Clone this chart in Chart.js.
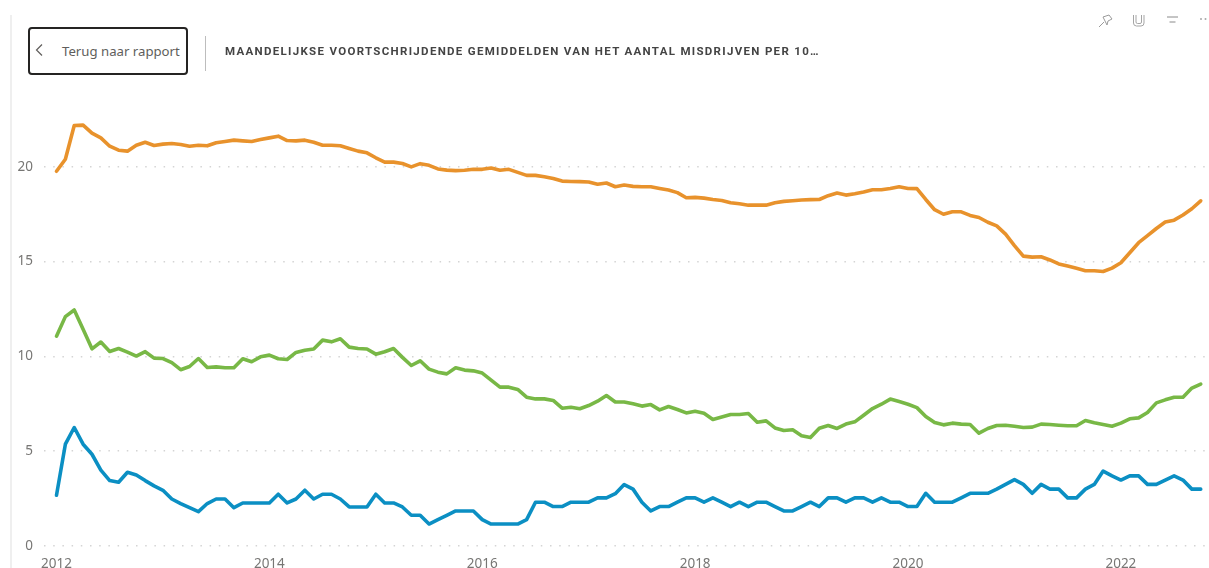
<!DOCTYPE html>
<html lang="nl">
<head>
<meta charset="utf-8">
<title>Maandelijkse voortschrijdende gemiddelden</title>
<script src="https://cdn.jsdelivr.net/npm/chart.js@4"></script>
<style>
html,body{margin:0;padding:0;background:#fff;overflow:hidden}
#wrap{position:relative;width:1209px;height:568px;font-family:"Noto Sans",sans-serif}
#c{position:absolute;left:0;top:0}
#leftline{position:absolute;left:10px;top:15px;width:2px;height:553px;background:#efefef}
#back{position:absolute;left:28px;top:27px;width:156px;height:44px;border:2px solid #252423;border-radius:4px;background:#fff}
#back svg{position:absolute;left:4px;top:14px}
#back span{position:absolute;left:32px;top:12px;font-size:13.2px;line-height:20px;color:#605e5c;white-space:nowrap}
#sep{position:absolute;left:205px;top:36px;width:1px;height:35px;background:#bdbdbd}
#title{position:absolute;left:225px;top:43px;font-family:"Roboto",sans-serif;font-weight:700;font-size:11.5px;line-height:16px;letter-spacing:1.31px;color:#444;white-space:nowrap}
.ic{position:absolute}
</style>
</head>
<body>
<div id="wrap">
<canvas id="c" width="1209" height="568"></canvas>
<div id="leftline"></div>
<div id="back">
<svg width="10" height="14" viewBox="0 0 10 14"><path d="M8 1.5 L2.5 7 L8 12.5" fill="none" stroke="#605e5c" stroke-width="1.2"/></svg>
<span>Terug naar rapport</span>
</div>
<div id="sep"></div>
<div id="title">MAANDELIJKSE VOORTSCHRIJDENDE GEMIDDELDEN VAN HET AANTAL MISDRIJVEN PER 10…</div>
<svg class="ic" style="left:1097px;top:13px" width="18" height="16" viewBox="0 0 18 16"><path d="M2 14 L7 9 M6 4 L12 2 L15 6 L11 8 L10 12 Z" fill="none" stroke="#9a9a9a" stroke-width="1"/></svg>
<svg class="ic" style="left:1131px;top:13px" width="16" height="15" viewBox="0 0 16 15"><path d="M2.5 2 V10 Q2.5 13 5.5 13 H10 Q13 13 13 10 V2 M5 2 V9 Q5 10.5 6.5 10.5 H9 Q10.5 10.5 10.5 9 V2" fill="none" stroke="#a5a5a5" stroke-width="1"/></svg>
<svg class="ic" style="left:1166px;top:15px" width="13" height="10" viewBox="0 0 13 10"><path d="M1 2 H12 M3.5 7 H9.5" fill="none" stroke="#8a8a8a" stroke-width="1"/></svg>
<svg class="ic" style="left:1198px;top:15px" width="11" height="8" viewBox="0 0 11 8"><circle cx="3" cy="4" r="1" fill="#a8a8a8"/><circle cx="7.5" cy="4" r="1" fill="#a8a8a8"/></svg>
</div>
<script>
const startYear = 2012;
const yearTicks = [2012, 2014, 2016, 2018, 2020, 2022];
const valueTicks = [0, 5, 10, 15, 20];

const orangeValues = [
19.77,20.4,22.18,22.2,21.78,21.53,21.09,20.88,20.83,21.14,
21.3,21.13,21.2,21.23,21.18,21.09,21.14,21.11,21.27,21.34,
21.41,21.37,21.34,21.44,21.53,21.62,21.39,21.37,21.41,21.3,
21.14,21.14,21.11,20.97,20.83,20.74,20.48,20.25,20.25,20.18,
20.0,20.17,20.08,19.89,19.83,19.8,19.82,19.87,19.87,19.94,
19.82,19.87,19.71,19.55,19.55,19.48,19.39,19.25,19.23,19.22,
19.2,19.08,19.15,18.95,19.04,18.97,18.95,18.95,18.86,18.78,
18.64,18.37,18.39,18.35,18.28,18.23,18.11,18.05,17.98,17.98,
17.98,18.11,18.18,18.21,18.25,18.27,18.28,18.48,18.62,18.51,
18.58,18.67,18.79,18.79,18.86,18.95,18.86,18.85,18.28,17.74,
17.5,17.63,17.63,17.44,17.33,17.08,16.89,16.45,15.85,15.29,
15.24,15.26,15.09,14.88,14.77,14.65,14.52,14.52,14.48,14.66,
14.94,15.47,16.0,16.37,16.75,17.09,17.19,17.46,17.79,18.21];

const greenValues = [
11.07,12.1,12.45,11.43,10.4,10.76,10.26,10.42,10.23,10.02,
10.25,9.91,9.89,9.67,9.3,9.47,9.89,9.42,9.45,9.4,
9.4,9.88,9.72,9.98,10.07,9.88,9.84,10.21,10.33,10.39,
10.86,10.77,10.93,10.49,10.42,10.39,10.12,10.25,10.42,9.95,
9.52,9.77,9.33,9.17,9.08,9.4,9.28,9.24,9.12,8.75,
8.38,8.38,8.26,7.85,7.76,7.76,7.68,7.27,7.32,7.24,
7.41,7.64,7.94,7.6,7.6,7.5,7.38,7.46,7.18,7.36,
7.2,7.02,7.11,7.0,6.67,6.8,6.94,6.94,6.99,6.53,
6.6,6.23,6.09,6.13,5.82,5.72,6.21,6.36,6.2,6.43,
6.55,6.9,7.25,7.48,7.75,7.62,7.48,7.3,6.83,6.51,
6.39,6.48,6.43,6.41,5.95,6.2,6.36,6.37,6.32,6.25,
6.27,6.43,6.41,6.37,6.34,6.34,6.62,6.5,6.41,6.32,
6.48,6.71,6.76,7.04,7.55,7.71,7.85,7.85,8.33,8.54];

const blueValues = [
2.68,5.37,6.25,5.37,4.84,4.0,3.45,3.36,3.89,3.75,
3.45,3.17,2.94,2.48,2.24,2.02,1.81,2.24,2.48,2.48,
2.02,2.27,2.27,2.27,2.27,2.73,2.27,2.48,2.94,2.48,
2.73,2.73,2.48,2.06,2.06,2.06,2.73,2.27,2.27,2.06,
1.62,1.62,1.16,1.39,1.62,1.85,1.85,1.85,1.39,1.16,
1.16,1.16,1.16,1.39,2.31,2.31,2.08,2.08,2.31,2.31,
2.31,2.54,2.54,2.76,3.24,3.0,2.31,1.85,2.08,2.08,
2.31,2.54,2.54,2.31,2.54,2.31,2.08,2.31,2.08,2.31,
2.31,2.08,1.85,1.85,2.08,2.31,2.08,2.54,2.54,2.31,
2.54,2.54,2.31,2.54,2.31,2.31,2.08,2.08,2.78,2.31,
2.31,2.31,2.54,2.78,2.78,2.78,3.0,3.25,3.5,3.25,
2.78,3.25,3.0,3.0,2.54,2.54,3.0,3.25,3.95,3.7,
3.48,3.7,3.7,3.25,3.25,3.48,3.7,3.48,3.0,3.0];

const toPoints = vals => vals.map((v, i) => ({x: startYear + i / 12, y: v}));
const lineStyle = c => ({borderColor: c, backgroundColor: c, borderWidth: 3.6, pointRadius: 0, tension: 0, borderCapStyle: 'round', borderJoinStyle: 'round', clip: false});
const tickFont = {family: '"Noto Sans", sans-serif', size: 13.5};

new Chart(document.getElementById('c'), {
  type: 'line',
  data: {datasets: [
    {label: 'Oranje', data: toPoints(orangeValues), ...lineStyle('#E8922C')},
    {label: 'Groen', data: toPoints(greenValues), ...lineStyle('#78B846')},
    {label: 'Blauw', data: toPoints(blueValues), ...lineStyle('#0B8FC3')}
  ]},
  options: {
    responsive: false,
    animation: false,
    layout: {padding: {left: 0, right: 2, top: 110, bottom: 0}},
    plugins: {legend: {display: false}, tooltip: {enabled: false}, title: {display: false}},
    scales: {
      x: {
        type: 'linear',
        min: 2011.8826,
        max: 2022.809,
        afterBuildTicks: s => { s.ticks = yearTicks.map(v => ({value: v})); },
        afterFit: s => { s.height = 22; },
        grid: {display: false},
        border: {display: false},
        ticks: {color: '#777674', font: tickFont, padding: 2, maxRotation: 0, autoSkip: false, callback: v => String(v)}
      },
      y: {
        type: 'linear',
        min: 0,
        max: 23,
        afterBuildTicks: s => { s.ticks = valueTicks.map(v => ({value: v})); },
        afterFit: s => { s.width = 44; },
        border: {display: false, dash: [1.5, 7.7]},
        grid: {color: '#d4d4d4', lineWidth: 1.5, drawTicks: false},
        ticks: {color: '#777674', font: tickFont, padding: 11, callback: v => String(v)}
      }
    }
  }
});
</script>
</body>
</html>
